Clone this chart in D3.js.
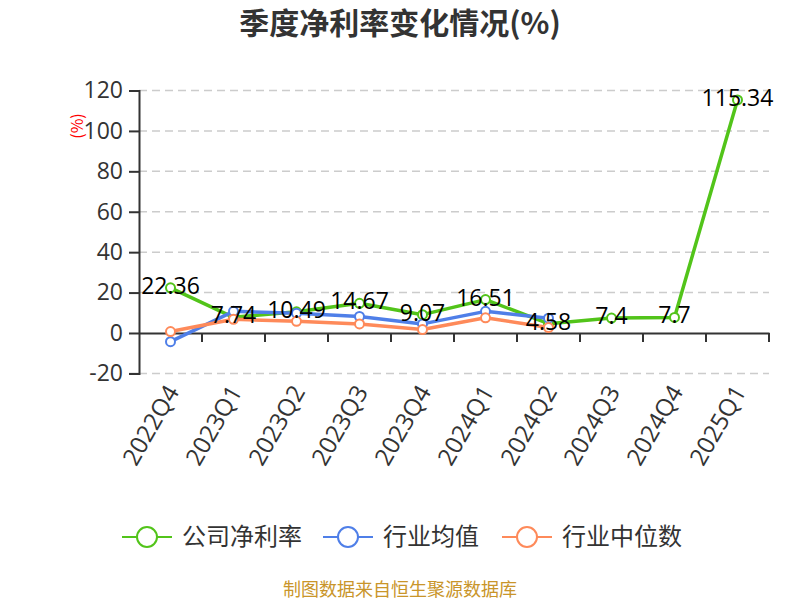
<!DOCTYPE html>
<html>
<head>
<meta charset="utf-8">
<script src="https://cdn.jsdelivr.net/npm/d3@7"></script>
<style>
  body { margin: 0; background: #fff; }
  text { font-family: "Noto Sans CJK SC", "Open Sans", sans-serif; }
</style>
</head>
<body>
<div id="chart-container"></div>
<script>
// chart data
const quarters = ["2022Q4", "2023Q1", "2023Q2", "2023Q3", "2023Q4", "2024Q1", "2024Q2", "2024Q3", "2024Q4", "2025Q1"];
const companyRate = [22.36, 7.74, 10.49, 14.67, 9.07, 16.51, 4.58, 7.4, 7.7, 115.34];
const industryAvg = [-4.3, 10.7, 9.8, 8.2, 4.5, 10.7, 7.3];
const industryMedian = [0.7, 6.8, 5.8, 4.5, 1.7, 7.5, 2.7];
const yTicks = [-20, 0, 20, 40, 60, 80, 100, 120];
const seriesNames = ["公司净利率", "行业均值", "行业中位数"];
const colors = ["#52c41a", "#4f7fe8", "#fe8a5a"];

const W = 800, H = 600;
const plot = { left: 139, right: 769, top: 90.5, bottom: 373.4 };
const numFont = "'Open Sans', sans-serif";

const svg = d3.select("#chart-container")
    .append("svg")
    .attr("width", W)
    .attr("height", H);

const x = d3.scaleBand().domain(quarters).range([plot.left, plot.right]);
const y = d3.scaleLinear().domain([-20, 120]).range([plot.bottom, plot.top]);

// title
svg.append("text")
    .attr("x", 400)
    .attr("y", 23)
    .attr("dy", "0.35em")
    .attr("text-anchor", "middle")
    .style("font-size", "30px")
    .style("font-weight", "bold")
    .style("fill", "#333")
    .text("季度净利率变化情况(%)");

// horizontal gridlines
svg.selectAll(".grid")
    .data(yTicks.filter(d => d !== 0))
    .join("line")
    .attr("x1", plot.left)
    .attr("x2", plot.right)
    .attr("y1", d => y(d))
    .attr("y2", d => y(d))
    .attr("stroke", "#ccc")
    .attr("stroke-width", 1.5)
    .attr("stroke-dasharray", "8,5");

// y axis (plain hyphen for negatives, as in the picture)
svg.append("g")
    .attr("transform", `translate(${plot.left},0)`)
    .call(d3.axisLeft(y).tickValues(yTicks).tickSize(10).tickPadding(6).tickFormat(d => String(d)))
    .call(g => g.select(".domain").attr("stroke", "#333").attr("stroke-width", 2))
    .call(g => g.selectAll(".tick line").attr("stroke", "#333").attr("stroke-width", 2))
    .call(g => g.selectAll(".tick text")
        .style("font-size", "23px")
        .style("fill", "#333")
        .style("font-family", numFont));

// y-axis unit label
svg.append("text")
    .attr("transform", "translate(77,126) rotate(-90)")
    .attr("text-anchor", "middle")
    .attr("dy", "0.35em")
    .style("font-size", "16px")
    .style("fill", "red")
    .text("(%)");

// x axis on zero
svg.append("g")
    .attr("transform", `translate(0,${y(0)})`)
    .call(d3.axisBottom(x).tickSize(0).tickFormat(""))
    .call(g => g.select(".domain").attr("stroke", "#333").attr("stroke-width", 2));

// x ticks at band boundaries
svg.selectAll(".xtick")
    .data(quarters)
    .join("line")
    .attr("x1", d => x(d) + x.bandwidth())
    .attr("x2", d => x(d) + x.bandwidth())
    .attr("y1", y(0))
    .attr("y2", y(0) + 9)
    .attr("stroke", "#333")
    .attr("stroke-width", 2);

// x labels, under the bottom of the plot
svg.selectAll(".xlabel")
    .data(quarters)
    .join("text")
    .attr("transform", d => `translate(${x(d) + x.bandwidth() / 2 + 2},${plot.bottom + 14}) rotate(-60)`)
    .attr("text-anchor", "end")
    .attr("dy", "0.35em")
    .style("font-size", "24px")
    .style("fill", "#333")
    .style("font-family", numFont)
    .text(d => d);

const cx = (d, i) => x(quarters[i]) + x.bandwidth() / 2;
const line = d3.line().x((d, i) => cx(d, i)).y(d => y(d));

[companyRate, industryAvg, industryMedian].forEach((series, k) => {
    svg.append("path")
        .datum(series)
        .attr("fill", "none")
        .attr("stroke", colors[k])
        .attr("stroke-width", 3.5)
        .attr("stroke-linejoin", "round")
        .attr("d", line);

    svg.selectAll(".pt" + k)
        .data(series)
        .join("circle")
        .attr("cx", cx)
        .attr("cy", d => y(d))
        .attr("r", 4.5)
        .attr("fill", "#fff")
        .attr("stroke", colors[k])
        .attr("stroke-width", 2);
});

// data labels for company series
svg.selectAll(".lbl")
    .data(companyRate)
    .join("text")
    .attr("x", cx)
    .attr("y", d => y(d) - 2)
    .attr("dy", "0.35em")
    .attr("text-anchor", "middle")
    .style("font-size", "23px")
    .style("fill", "#000")
    .style("font-family", numFont)
    .text(d => d);

// legend
const legendX = [122, 323, 502];
seriesNames.forEach((name, k) => {
    const g = svg.append("g").attr("transform", `translate(${legendX[k]},537)`);
    g.append("line")
        .attr("x1", 0).attr("x2", 50)
        .attr("stroke", colors[k]).attr("stroke-width", 2);
    g.append("circle")
        .attr("cx", 25).attr("r", 10)
        .attr("fill", "#fff")
        .attr("stroke", colors[k]).attr("stroke-width", 2);
    g.append("text")
        .attr("x", 60)
        .attr("dy", "0.35em")
        .style("font-size", "24px")
        .style("fill", "#333")
        .text(name);
});

// source note
svg.append("text")
    .attr("x", 400)
    .attr("y", 590)
    .attr("dy", "0.35em")
    .attr("text-anchor", "middle")
    .style("font-size", "18px")
    .style("fill", "#c9952a")
    .text("制图数据来自恒生聚源数据库");
</script>
</body>
</html>
